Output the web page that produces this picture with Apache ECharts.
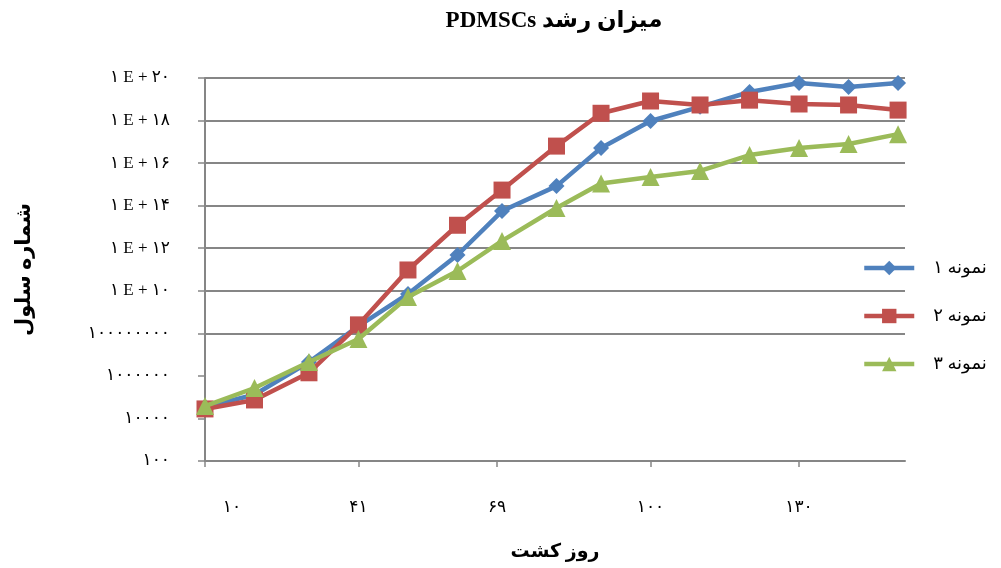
<!DOCTYPE html>
<html>
<head>
<meta charset="utf-8">
<script src="https://cdn.jsdelivr.net/npm/echarts@6/dist/echarts.min.js"></script>
<style>
html,body{margin:0;padding:0;background:#fff;}
#c{width:1001px;height:568px;}
</style>
</head>
<body>
<div id="c"></div>
<script>
// Days of culture (x values)
var days = [10, 20, 31, 41, 51, 61, 70, 81, 90, 100, 110, 120, 130, 140, 150];
// x-axis tick labels
var xTicks = [10, 41, 69, 100, 130];
// Series names
var seriesNames = ['نمونه ۱', 'نمونه ۲', 'نمونه ۳'];
// Cell counts
var sample1 = [3.5e4, 1.3e5, 4.5e6, 2.2e8, 7.1e9, 4.8e11, 5.6e13, 8.3e14, 5.1e16, 9.5e17, 4.4e18, 2.2e19, 5.8e19, 3.8e19, 5.8e19];
var sample2 = [2.8e4, 7.4e4, 1.4e6, 2.5e8, 9.5e10, 1.2e13, 5.4e14, 6.3e16, 2.2e18, 8.3e18, 5.4e18, 9.1e18, 6.0e18, 5.4e18, 3.1e18];
var sample3 = [3.8e4, 2.7e5, 4.5e6, 5.4e7, 5.1e9, 8.5e10, 2.2e12, 7.8e13, 1.1e15, 2.2e15, 4.3e15, 2.4e16, 5.1e16, 7.9e16, 2.3e17];

var fa = '۰۱۲۳۴۵۶۷۸۹';
function toFa(s) { return String(s).replace(/[0-9]/g, function (d) { return fa[+d]; }); }
function yLabel(v) {
  var e = Math.round(Math.log10(v));
  if (e >= 10) return '۱ E + ' + toFa(e);
  var s = '1';
  for (var i = 0; i < e; i++) s += '0';
  return toFa(s);
}
function pairs(arr) { return arr.map(function (v, i) { return [days[i], v]; }); }

var serif = "'Liberation Serif', 'Times New Roman', 'DejaVu Sans', serif";
var gray = '#868686';
var gridColors = [gray, 'transparent', 'transparent', gray, gray, gray, gray, gray, gray, gray, gray];

var chart = echarts.init(document.getElementById('c'));
chart.setOption({
  animation: false,
  backgroundColor: '#fff',
  title: {
    text: 'PDMSCs میزان رشد',
    left: 549, top: 5, textAlign: 'center',
    textStyle: { fontFamily: serif, fontSize: 23, fontWeight: 'bold', color: '#000' }
  },
  legend: {
    orient: 'vertical', left: 862, top: 259, itemGap: 30, padding: 0,
    itemWidth: 50, itemHeight: 18,
    lineStyle: { width: 4.5 },
    textStyle: { fontFamily: serif, fontSize: 18, color: '#000', padding: [0, 0, 0, 14] },
    data: seriesNames
  },
  grid: { left: 205, right: 96, top: 78, bottom: 107, containLabel: false, outerBoundsMode: 'none' },
  xAxis: {
    type: 'value', min: 10, max: 151.4,
    name: 'روز کشت', nameLocation: 'middle', nameGap: 82,
    nameTextStyle: { fontFamily: serif, fontSize: 19, fontWeight: 'bold', color: '#000' },
    axisLine: { show: true, lineStyle: { color: gray, width: 2 } },
    axisTick: { show: true, length: 6, customValues: xTicks, lineStyle: { color: gray, width: 1.5 } },
    axisLabel: {
      customValues: xTicks, margin: 38, fontFamily: serif, fontSize: 17, color: '#000',
      formatter: function (v) { return v === 10 ? '{f|' + toFa(v) + '}' : toFa(v); },
      rich: { f: { padding: [0, 0, 0, 54], fontFamily: serif, fontSize: 17, color: '#000' } }
    },
    splitLine: { show: false }
  },
  yAxis: {
    type: 'log', logBase: 10, min: 100, max: 1e20, interval: 2,
    name: 'شماره سلول', nameLocation: 'middle', nameGap: 170, nameRotate: 90,
    nameTextStyle: { fontFamily: serif, fontSize: 21, fontWeight: 'bold', color: '#000' },
    axisLine: { show: true, lineStyle: { color: gray, width: 2 } },
    axisTick: { show: true, length: 7, lineStyle: { color: gray, width: 1.5 } },
    axisLabel: { margin: 35, fontFamily: serif, fontSize: 17, color: '#000', formatter: yLabel },
    splitLine: { show: true, lineStyle: { color: gridColors, width: 2 } }
  },
  series: [
    { name: seriesNames[0], type: 'line', data: pairs(sample1), symbol: 'diamond', symbolSize: 16,
      lineStyle: { width: 4.5, color: '#4F81BD' }, itemStyle: { color: '#4F81BD' }, z: 3 },
    { name: seriesNames[1], type: 'line', data: pairs(sample2), symbol: 'rect', symbolSize: 17,
      lineStyle: { width: 4.5, color: '#C0504D' }, itemStyle: { color: '#C0504D' }, z: 4 },
    { name: seriesNames[2], type: 'line', data: pairs(sample3), symbol: 'triangle', symbolSize: 18,
      lineStyle: { width: 4.5, color: '#9BBB59' }, itemStyle: { color: '#9BBB59' }, z: 5 }
  ]
});
</script>
</body>
</html>
